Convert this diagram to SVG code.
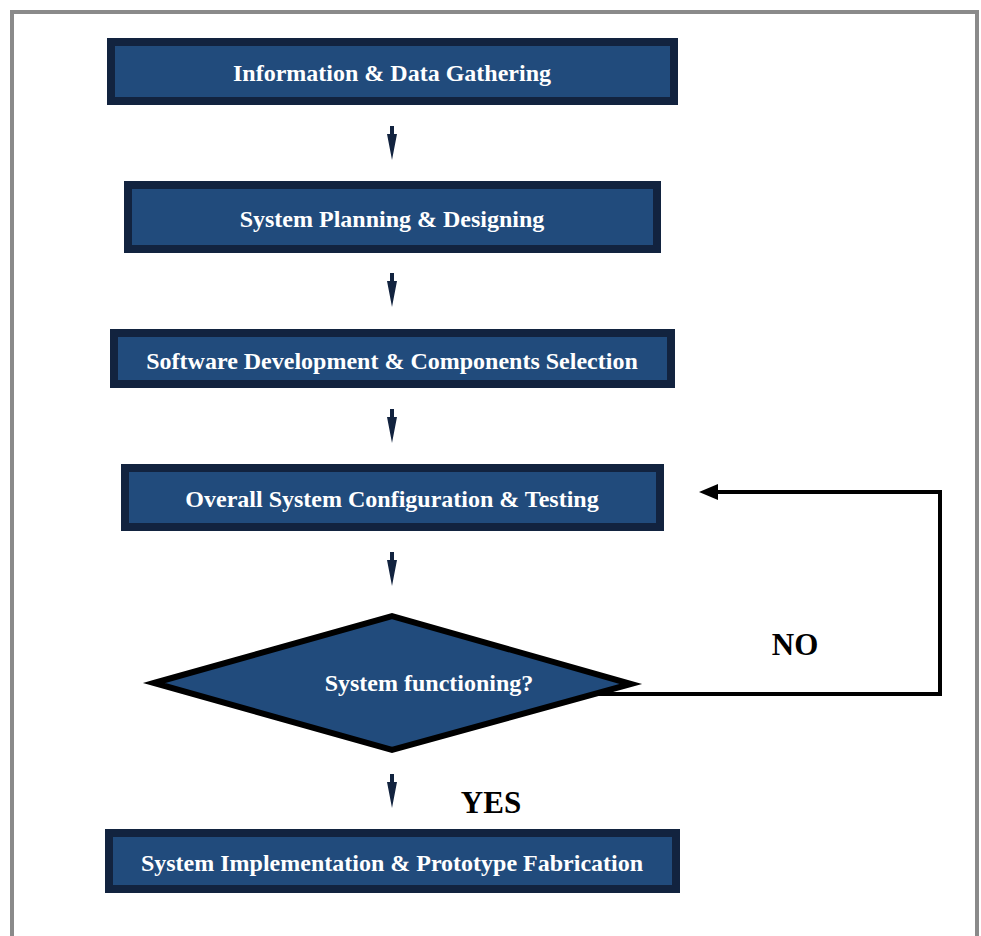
<svg xmlns="http://www.w3.org/2000/svg" width="981" height="936" viewBox="0 0 981 936">
  <style>
    .box { fill: #214b7c; stroke: #12233f; stroke-width: 8; }
    .dia { fill: #214b7c; stroke: #000; stroke-width: 6; stroke-linejoin: miter; }
    .lbl { font-family: "Liberation Serif", "Times New Roman", serif; font-weight: bold; font-size: 24px; fill: #fff; text-anchor: middle; }
    .tag { font-family: "Liberation Serif", "Times New Roman", serif; font-weight: bold; font-size: 31px; fill: #000; text-anchor: middle; }
    .down { fill: #12233f; }
    .loop { fill: none; stroke: #000; stroke-width: 4; }
  </style>
  <defs>
    <!-- small navy down-pointer: narrow stem, flared head tapering to a point -->
    <path id="dn" class="down" d="M-2,0 H2 V8 H5 L0,34 L-5,8 H-2 Z"/>
  </defs>
  <rect width="981" height="936" fill="#fff"/>
  <rect x="12" y="12" width="965" height="940" fill="none" stroke="#8a8a8a" stroke-width="4"/>

  <g id="n1">
    <rect class="box" x="111" y="42" width="563" height="59"/>
    <text class="lbl" x="392" y="81">Information &amp; Data Gathering</text>
  </g>
  <g id="n2">
    <rect class="box" x="128" y="185" width="529" height="64"/>
    <text class="lbl" x="392" y="227">System Planning &amp; Designing</text>
  </g>
  <g id="n3">
    <rect class="box" x="114" y="333" width="557" height="51"/>
    <text class="lbl" x="392" y="369">Software Development &amp; Components Selection</text>
  </g>
  <g id="n4">
    <rect class="box" x="125" y="468" width="535" height="59"/>
    <text class="lbl" x="392" y="507">Overall System Configuration &amp; Testing</text>
  </g>
  <g id="n5">
    <polygon class="dia" points="154,683 392,616 631,684 392,750"/>
    <text class="lbl" x="429" y="691">System functioning?</text>
  </g>
  <g id="n6">
    <rect class="box" x="109" y="833" width="567" height="56"/>
    <text class="lbl" x="392" y="871">System Implementation &amp; Prototype Fabrication</text>
  </g>

  <g id="connectors">
    <use href="#dn" x="392" y="126"/>
    <use href="#dn" x="392" y="273"/>
    <use href="#dn" x="392" y="409"/>
    <use href="#dn" x="392" y="552"/>
    <use href="#dn" x="392" y="774"/>
    <polyline class="loop" points="590,694 940,694 940,492 716,492"/>
    <polygon fill="#000" points="699,492 718,484 718,500"/>
    <text class="tag" x="795" y="655">NO</text>
    <text class="tag" x="491" y="813">YES</text>
  </g>
</svg>
